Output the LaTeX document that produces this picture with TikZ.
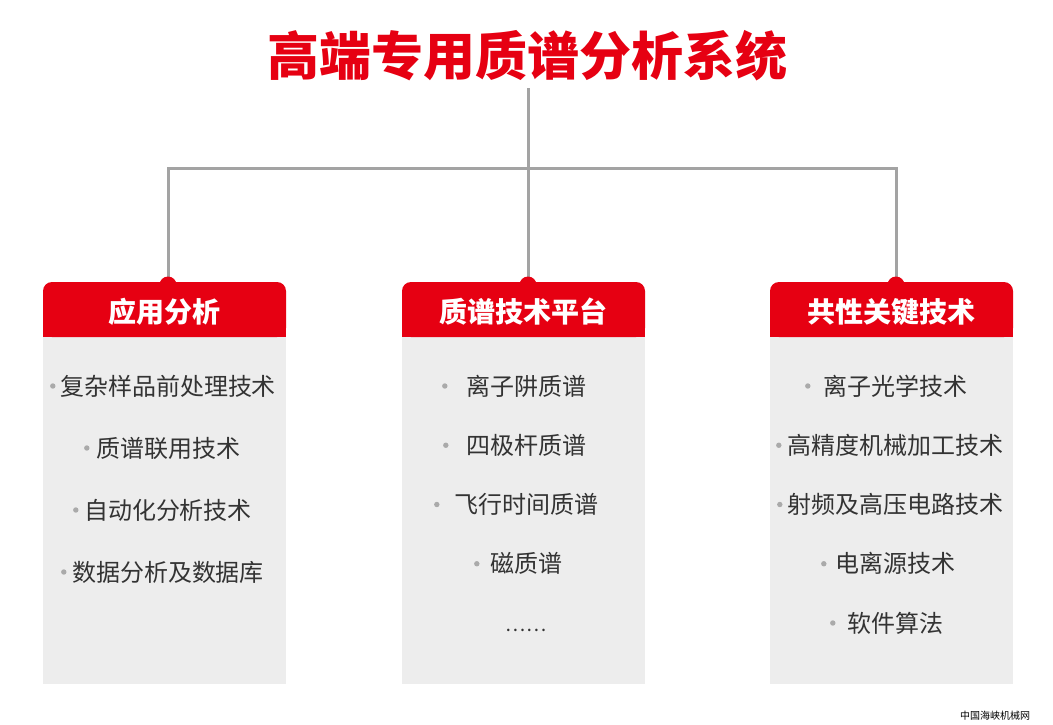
\documentclass[tikz,border=0pt]{standalone}
\usepackage{fontspec}
\setmainfont{Noto Sans CJK SC}
\definecolor{hdred}{HTML}{E60012}
\definecolor{linegray}{HTML}{A3A3A3}
\definecolor{bodygray}{HTML}{EDEDED}
\definecolor{itemtext}{HTML}{333333}
\definecolor{bulgray}{HTML}{AAAAAA}
\newcommand{\lowtext}[1]{\raisebox{-2pt}[\height][\depth]{#1}}

\begin{document}
\begin{tikzpicture}[x=1pt,y=-1pt,
  link/.style={line width=3pt,color=linegray},
  head/.style={fill=hdred,text=white,font=\fontsize{28}{28}\selectfont\bfseries,
    minimum width=243pt,minimum height=55pt,rounded corners=9pt,inner sep=0pt},
  item/.style={text=itemtext,font=\fontsize{24}{24}\selectfont,inner sep=0pt},
  wmark/.style={font=\fontsize{10}{10}\selectfont,inner sep=0pt}]

\useasboundingbox[fill=white] (0,0) rectangle (1053,724);

\node[text=hdred,font=\fontsize{52}{52}\selectfont\bfseries,inner sep=0pt] (title) at (527,56) {高端专用质谱分析系统};

\coordinate (top) at (528,88);
\coordinate (hub) at (528,168);
\coordinate (b1) at (168,285);
\coordinate (b2) at (528,285);
\coordinate (b3) at (896,285);

\draw[link] (top) -- (hub);
\draw[link] (b1) |- (hub) -| (b3);
\draw[link] (hub) -- (b2);

\foreach \x in {43,402,770}
{
\fill[bodygray] (\x,337) rectangle (\x+243,684);
\fill[hdred] (\x,310) rectangle (\x+243,337);
}
\foreach \i in {1,2,3}
{
\fill[hdred] (b\i) circle (8.5);
}

\node[head] (hd1) at (164.5,309.5) {\lowtext{应用分析}};
\node[head] (hd2) at (523.5,309.5) {\lowtext{质谱技术平台}};
\node[head] (hd3) at (891.5,309.5) {\lowtext{共性关键技术}};

\foreach \txt/\gap [count=\k] in {复杂样品前处理技术/7,质谱联用技术/9,自动化分析技术/8,数据分析及数据库/8}
{
\node[item] (a\k) at (168,324+62*\k) {\txt};
\fill[bulgray] ([xshift=-\gap pt]a\k.west) circle (2.7);
}

\foreach \txt/\gap [count=\k] in {离子阱质谱/21,四极杆质谱/20,飞行时间质谱/17,磁质谱/13}
{
\node[item] (m\k) at (526,326.75+59.25*\k) {\txt};
\fill[bulgray] ([xshift=-\gap pt]m\k.west) circle (2.7);
}
\node[item,font=\fontsize{19}{19}\selectfont] (m5) at (526,630) {……};

\foreach \txt/\gap [count=\k] in {离子光学技术/15,高精度机械加工技术/8,射频及高压电路技术/7,电离源技术/11,软件算法/14}
{
\node[item] (c\k) at (895,326.75+59.25*\k) {\txt};
\fill[bulgray] ([xshift=-\gap pt]c\k.west) circle (2.7);
}

\node[wmark] (site) at (995,716) {中国海峡机械网};
\end{tikzpicture}
\end{document}
